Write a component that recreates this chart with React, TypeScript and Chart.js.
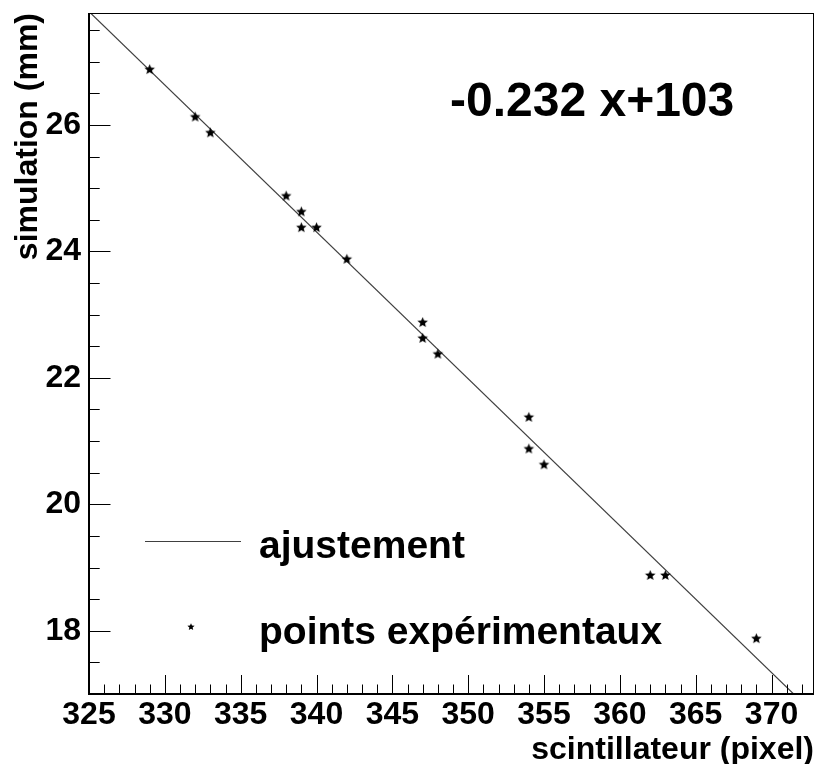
import { useEffect, useRef } from 'react';
import { Chart, registerables } from 'chart.js';

Chart.register(...registerables);

// Measured positions (pixel column on the scintillator) and simulated depth (mm)
const X_VALUES = [329, 332, 333, 338, 339, 339, 340, 342, 347, 347, 348, 354, 354, 355, 362, 363, 369];
const Y_VALUES = [
  26.875, 26.125, 25.875, 24.875, 24.625, 24.375, 24.375, 23.875, 22.875,
  22.625, 22.375, 21.375, 20.875, 20.625, 18.875, 18.875, 17.875,
];

// Linear fit y = a x + b
const FIT_SLOPE = -0.2323;
const FIT_INTERCEPT = 103.29;

const X_RANGE = [325, 372.8];
const Y_RANGE = [17, 27.77];
const X_LABEL_STEP = 5;
const X_MINOR_STEP = 1;
const Y_LABEL_STEP = 2;
const Y_MINOR_STEP = 0.5;

const SERIES_LABELS = ['ajustement', 'points expérimentaux'];
const X_TITLE = 'scintillateur (pixel)';
const Y_TITLE = 'simulation (mm)';

const FONT = '"Liberation Sans", Arial, Helvetica, sans-serif';

function fitValue(x: number) {
  return FIT_SLOPE * x + FIT_INTERCEPT;
}

function fitLabel() {
  return `${FIT_SLOPE.toFixed(3)} x+${FIT_INTERCEPT.toFixed(0)}`;
}

function drawStar(g: CanvasRenderingContext2D, cx: number, cy: number, r: number, color: string) {
  g.save();
  g.beginPath();
  for (let k = 0; k < 10; k++) {
    const rad = k % 2 === 0 ? r : r * 0.45;
    const a = -Math.PI / 2 + (k * Math.PI) / 5;
    const px = cx + rad * Math.cos(a);
    const py = cy + rad * Math.sin(a);
    if (k === 0) g.moveTo(px, py);
    else g.lineTo(px, py);
  }
  g.closePath();
  g.fillStyle = color;
  g.fill();
  g.restore();
}

function makeStarImage(r: number, color: string) {
  const size = Math.ceil(r * 2) + 2;
  const c = document.createElement('canvas');
  c.width = size;
  c.height = size;
  const g = c.getContext('2d')!;
  drawStar(g, size / 2, size / 2, r, color);
  return c;
}

function isMultiple(v: number, step: number) {
  const q = v / step;
  return Math.abs(q - Math.round(q)) < 1e-6;
}

// Frame, inward tick marks, legend and fit formula
const decorPlugin = {
  id: 'decor',
  afterDraw(chart: any) {
    const { ctx, chartArea } = chart;
    const xs = chart.scales.x;
    const ys = chart.scales.y;
    const { left, right, top, bottom } = chartArea;
    ctx.save();

    // frame
    ctx.strokeStyle = '#000';
    ctx.lineWidth = 1;
    ctx.strokeRect(left + 0.5, top + 0.5, right - left - 1, bottom - top);

    // x tick marks
    const xi0 = Math.ceil(X_RANGE[0] / X_MINOR_STEP);
    const xi1 = Math.floor(X_RANGE[1] / X_MINOR_STEP);
    for (let i = xi0; i <= xi1; i++) {
      const v = i * X_MINOR_STEP;
      const px = Math.round(xs.getPixelForValue(v)) + 0.5;
      const len = isMultiple(v, X_LABEL_STEP) ? 19 : 9.5;
      ctx.beginPath();
      ctx.moveTo(px, bottom);
      ctx.lineTo(px, bottom - len);
      ctx.stroke();
    }

    // y tick marks
    const yi0 = Math.ceil(Y_RANGE[0] / Y_MINOR_STEP - 1e-9);
    const yi1 = Math.floor(Y_RANGE[1] / Y_MINOR_STEP);
    for (let i = yi0; i <= yi1; i++) {
      const v = i * Y_MINOR_STEP;
      const py = Math.round(ys.getPixelForValue(v)) + 0.5;
      const len = isMultiple(v, Y_LABEL_STEP) ? 21.5 : 10.7;
      ctx.beginPath();
      ctx.moveTo(left, py);
      ctx.lineTo(left + len, py);
      ctx.stroke();
    }

    // axis lines
    ctx.lineWidth = 2;
    ctx.beginPath();
    ctx.moveTo(left, top);
    ctx.lineTo(left, bottom);
    ctx.lineTo(right, bottom);
    ctx.stroke();

    // legend
    const rows = [541, 627];
    chart.data.datasets.forEach((ds: any, i: number) => {
      const y = rows[i];
      if (ds.showLine) {
        ctx.strokeStyle = ds.borderColor;
        ctx.lineWidth = ds.borderWidth;
        ctx.beginPath();
        ctx.moveTo(145, y + 0.5);
        ctx.lineTo(241, y + 0.5);
        ctx.stroke();
      } else {
        drawStar(ctx, 191, y, 3.8, '#000');
      }
      ctx.fillStyle = '#000';
      ctx.font = `bold 39px ${FONT}`;
      ctx.textAlign = 'left';
      ctx.textBaseline = 'alphabetic';
      ctx.fillText(ds.label, 259, y + 17);
    });

    // fit formula
    ctx.fillStyle = '#000';
    ctx.font = `bold 48px ${FONT}`;
    ctx.textAlign = 'left';
    ctx.textBaseline = 'alphabetic';
    ctx.fillText(fitLabel(), 450, 116);

    ctx.restore();
  },
};

export default function App() {
  const canvasRef = useRef<HTMLCanvasElement | null>(null);

  useEffect(() => {
    const canvas = canvasRef.current;
    if (!canvas) return;

    const starImg = makeStarImage(5.5, '#000');
    const points = X_VALUES.map((x, i) => ({ x, y: Y_VALUES[i] }));
    const fitLine = X_RANGE.map((x) => ({ x, y: fitValue(x) }));

    const chart = new Chart(canvas, {
      type: 'scatter',
      data: {
        datasets: [
          {
            label: SERIES_LABELS[0],
            data: fitLine,
            showLine: true,
            borderColor: '#404040',
            borderWidth: 1.2,
            pointRadius: 0,
            order: 1,
          } as any,
          {
            label: SERIES_LABELS[1],
            data: points,
            showLine: false,
            pointStyle: starImg,
            pointRadius: 5,
            borderWidth: 0,
            backgroundColor: '#000',
            order: 0,
          } as any,
        ],
      },
      options: {
        responsive: false,
        animation: false,
        devicePixelRatio: 1,
        layout: { autoPadding: false, padding: { left: 0, right: 4, top: 13, bottom: 0 } },
        plugins: {
          legend: { display: false },
          tooltip: { enabled: false },
        },
        scales: {
          x: {
            type: 'linear',
            min: X_RANGE[0],
            max: X_RANGE[1],
            grid: { display: false, drawTicks: false },
            border: { display: false },
            ticks: {
              stepSize: X_LABEL_STEP,
              includeBounds: false,
              autoSkip: false,
              maxRotation: 0,
              padding: 5,
              color: '#000',
              font: { family: FONT, size: 32, weight: 'bold', lineHeight: 1 },
              callback: (v: any) => (isMultiple(Number(v), X_LABEL_STEP) ? String(v) : null),
            },
            title: {
              display: true,
              text: X_TITLE,
              align: 'end',
              color: '#000',
              font: { family: FONT, size: 32, weight: 'bold', lineHeight: 1 },
              padding: { top: 0, bottom: -2 },
            },
            afterFit: (scale: any) => {
              scale.height = 70;
              scale.paddingLeft = 0;
              scale.paddingRight = 0;
              scale.paddingTop = 0;
              scale.paddingBottom = 0;
            },
          },
          y: {
            type: 'linear',
            min: Y_RANGE[0],
            max: Y_RANGE[1],
            grid: { display: false, drawTicks: false },
            border: { display: false },
            ticks: {
              stepSize: Y_LABEL_STEP,
              includeBounds: false,
              autoSkip: false,
              padding: 8,
              color: '#000',
              font: { family: FONT, size: 32, weight: 'bold', lineHeight: 1 },
              callback: (v: any) => (isMultiple(Number(v), Y_LABEL_STEP) ? String(v) : null),
            },
            title: {
              display: true,
              text: Y_TITLE,
              align: 'end',
              color: '#000',
              font: { family: FONT, size: 32, weight: 'bold', lineHeight: 1 },
              padding: { top: 12, bottom: 0 },
            },
            afterFit: (scale: any) => {
              scale.width = 89;
              scale.paddingLeft = 0;
              scale.paddingRight = 0;
              scale.paddingTop = 0;
              scale.paddingBottom = 0;
            },
          },
        },
      } as any,
      plugins: [decorPlugin],
    });

    return () => chart.destroy();
  }, []);

  return (
    <div style={{ position: 'absolute', left: 0, top: 0, width: 818, height: 764, background: '#fff' }}>
      <canvas ref={canvasRef} width={818} height={764} />
    </div>
  );
}
